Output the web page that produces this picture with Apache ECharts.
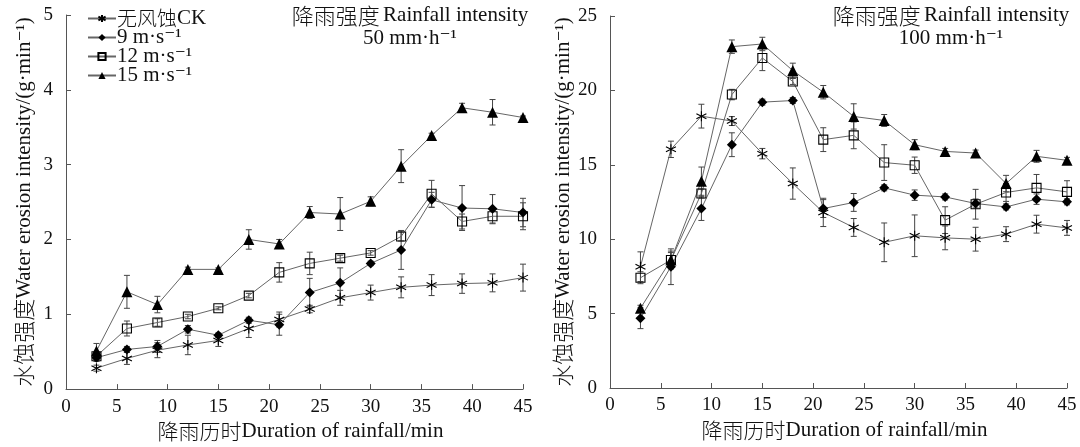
<!DOCTYPE html>
<html><head><meta charset="utf-8">
<script src="https://cdn.jsdelivr.net/npm/echarts@6/dist/echarts.min.js"></script>
<style>html,body{margin:0;padding:0;background:#fff}#c{width:1080px;height:447px}</style>
</head><body><div id="c"></div>
<script>
const times = [3,6,9,12,15,18,21,24,27,30,33,36,39,42,45];
const seriesNames = ['无风蚀CK','9 m·s⁻¹','12 m·s⁻¹','15 m·s⁻¹'];

// Rainfall 50 mm/h
const ck50 = [0.28,0.41,0.52,0.59,0.65,0.81,0.93,1.07,1.22,1.29,1.36,1.39,1.41,1.42,1.49];
const ck50Err = [0.04,0.08,0.1,0.13,0.08,0.12,0.1,0.05,0.1,0.1,0.14,0.14,0.13,0.12,0.18];
const w9_50 = [0.42,0.53,0.57,0.8,0.72,0.92,0.86,1.29,1.42,1.68,1.86,2.53,2.42,2.41,2.36];
const w9_50Err = [0.05,0.04,0.08,0.05,0.03,0.04,0.14,0.19,0.2,0.03,0.26,0.1,0.3,0.19,0.19];
const w12_50 = [0.44,0.81,0.89,0.97,1.08,1.25,1.56,1.68,1.75,1.82,2.04,2.61,2.24,2.31,2.31];
const w12_50Err = [0.04,0.1,0.05,0.03,0.02,0.03,0.13,0.15,0.04,0.03,0.06,0.18,0.1,0.1,0.18];
const w15_50 = [0.51,1.30,1.13,1.60,1.60,2.00,1.94,2.36,2.34,2.51,2.98,3.39,3.76,3.70,3.63];
const w15_50Err = [0.1,0.22,0.11,0.03,0.02,0.13,0.06,0.08,0.22,0.06,0.22,0.03,0.06,0.17,0.02];

// Rainfall 100 mm/h
const ck100 = [8.15,16.04,18.27,17.94,15.75,13.74,11.8,10.79,9.79,10.23,10.09,10.0,10.34,11.01,10.76];
const ck100Err = [1.0,0.55,0.8,0.3,0.35,1.05,0.95,0.6,1.3,1.4,0.8,0.8,0.5,0.6,0.5];
const w9_100 = [4.69,8.15,12.06,16.35,19.21,19.32,12.06,12.47,13.45,12.96,12.84,12.4,12.17,12.69,12.51];
const w9_100Err = [0.7,1.2,0.8,0.8,0.2,0.2,0.6,0.6,0.2,0.35,0.2,0.3,0.2,0.35,0.2];
const w12_100 = [7.41,8.6,13.07,19.72,22.18,20.6,16.69,16.98,15.15,14.97,11.28,12.35,13.14,13.45,13.18];
const w12_100Err = [0.4,0.6,0.3,0.35,0.85,0.2,0.8,0.9,1.2,0.55,0.9,1.0,0.6,0.9,0.75];
const w15_100 = [5.36,8.6,13.9,22.94,23.12,21.33,19.88,18.25,17.98,16.35,15.9,15.79,13.74,15.57,15.3];
const w15_100Err = [0.2,0.5,0.95,0.45,0.45,0.5,0.45,0.85,0.4,0.34,0.2,0.2,0.55,0.4,0.2];

const serif = '"Liberation Serif","DejaVu Serif","Noto Sans CJK SC",serif';
const cjk = '"Noto Sans CJK SC","Liberation Serif",serif';
const asterisk = 'path://M0,-5L0,5M-4.33,-2.5L4.33,2.5M-4.33,2.5L4.33,-2.5';
const symbols = [asterisk,'diamond','rect','triangle'];
const symSizes = [10,10,9,11];
const fills = ['#000','#000','none','#000'];

const chart = echarts.init(document.getElementById('c'));

function axisX(gi){
  return {type:'value', gridIndex:gi, min:0, max:45, interval:5,
    name:'{c|降雨历时}{l|Duration of rainfall/min}', nameLocation:'middle', nameGap:31,
    nameTextStyle:{fontFamily:serif, fontSize:21, color:'#111', padding:[0,0,0,12],
      rich:{c:{fontFamily:cjk,fontSize:21,fontWeight:300,color:'#111'},l:{fontFamily:serif,fontSize:21,color:'#111'}}},
    axisLine:{lineStyle:{color:'#555',width:1}},
    axisTick:{inside:true,length:5,lineStyle:{color:'#555'}},
    axisLabel:{fontFamily:serif, fontSize:19, color:'#111', margin:8},
    splitLine:{show:false}};
}
function axisY(gi,max,interval){
  return {type:'value', gridIndex:gi, min:0, max:max, interval:interval,
    name:'{c|水蚀强度}{l|Water erosion intensity/(g·min⁻¹)}', nameLocation:'middle', nameGap:31,
    nameTextStyle:{fontFamily:serif, fontSize:21, color:'#111',
      rich:{c:{fontFamily:cjk,fontSize:22,fontWeight:300,color:'#111'},l:{fontFamily:serif,fontSize:21,color:'#111'}}},
    axisLine:{show:true,lineStyle:{color:'#555',width:1}},
    axisTick:{show:true,inside:true,length:5,lineStyle:{color:'#555'}},
    axisLabel:{fontFamily:serif, fontSize:19, color:'#111', margin:13},
    splitLine:{show:false}};
}

function pairs(vals){ return times.map((t,i)=>[t,vals[i]]); }
function errData(vals,errs){ return times.map((t,i)=>[t,vals[i]-errs[i],vals[i]+errs[i]]); }

function lineSeries(k,vals,gi){
  return {type:'line', name:seriesNames[k], xAxisIndex:gi, yAxisIndex:gi,
    data:pairs(vals), symbol:symbols[k], symbolSize:symSizes[k],
    lineStyle:{color:'#666',width:1}, z:3,
    itemStyle:{color:fills[k], borderColor:'#000', borderWidth:k===1||k===3?0:1.1},
    emphasis:{disabled:true}, animation:false};
}
function errSeries(vals,errs,gi){
  return {type:'custom', xAxisIndex:gi, yAxisIndex:gi, data:errData(vals,errs), z:2, silent:true, animation:false,
    renderItem:function(params,api){
      const x=api.value(0), lo=api.coord([x,api.value(1)]), hi=api.coord([x,api.value(2)]);
      const w=3, st={stroke:'#444',lineWidth:1};
      return {type:'group',children:[
        {type:'line',shape:{x1:lo[0],y1:lo[1],x2:hi[0],y2:hi[1]},style:st},
        {type:'line',shape:{x1:lo[0]-w,y1:lo[1],x2:lo[0]+w,y2:lo[1]},style:st},
        {type:'line',shape:{x1:hi[0]-w,y1:hi[1],x2:hi[0]+w,y2:hi[1]},style:st}]};
    }};
}

function titleText(x,line2){
  return {type:'text', x:x, y:4, style:{
    text:'{c|降雨强度} {l|Rainfall intensity}\n{l|'+line2+'}', textAlign:'center', fill:'#111',
    rich:{c:{fontFamily:cjk,fontSize:22,fontWeight:300,fill:'#111',lineHeight:23},l:{fontFamily:serif,fontSize:21,fill:'#111',lineHeight:23}}}};
}

const option = {
  backgroundColor:'#fff',
  animation:false,
  grid:[{left:66,top:15,width:457,height:375},{left:610,top:16,width:457,height:372}],
  xAxis:[axisX(0),axisX(1)],
  yAxis:[axisY(0,5,1),axisY(1,25,5)],
  legend:{orient:'vertical', left:82, top:3, itemGap:-2, itemWidth:28, itemHeight:9,
    textStyle:{fontFamily:serif, fontSize:21, color:'#111', padding:[0,0,0,-4], lineHeight:19,
      rich:{c:{fontFamily:cjk,fontSize:20,fontWeight:300,color:'#111',lineHeight:19},l:{fontFamily:serif,fontSize:21,color:'#111',lineHeight:19}}},
    formatter:function(n){ return n==='无风蚀CK' ? '{c|无风蚀}{l|CK}' : '{l|'+n+'}'; },
    data:seriesNames, selectedMode:false},
  graphic:[ titleText(410,'50 mm·h⁻¹'), titleText(951,'100 mm·h⁻¹') ],
  series:[
    errSeries(ck50,ck50Err,0), errSeries(w9_50,w9_50Err,0), errSeries(w12_50,w12_50Err,0), errSeries(w15_50,w15_50Err,0),
    errSeries(ck100,ck100Err,1), errSeries(w9_100,w9_100Err,1), errSeries(w12_100,w12_100Err,1), errSeries(w15_100,w15_100Err,1),
    lineSeries(0,ck50,0), lineSeries(1,w9_50,0), lineSeries(2,w12_50,0), lineSeries(3,w15_50,0),
    lineSeries(0,ck100,1), lineSeries(1,w9_100,1), lineSeries(2,w12_100,1), lineSeries(3,w15_100,1)
  ]
};
chart.setOption(option);
</script></body></html>
